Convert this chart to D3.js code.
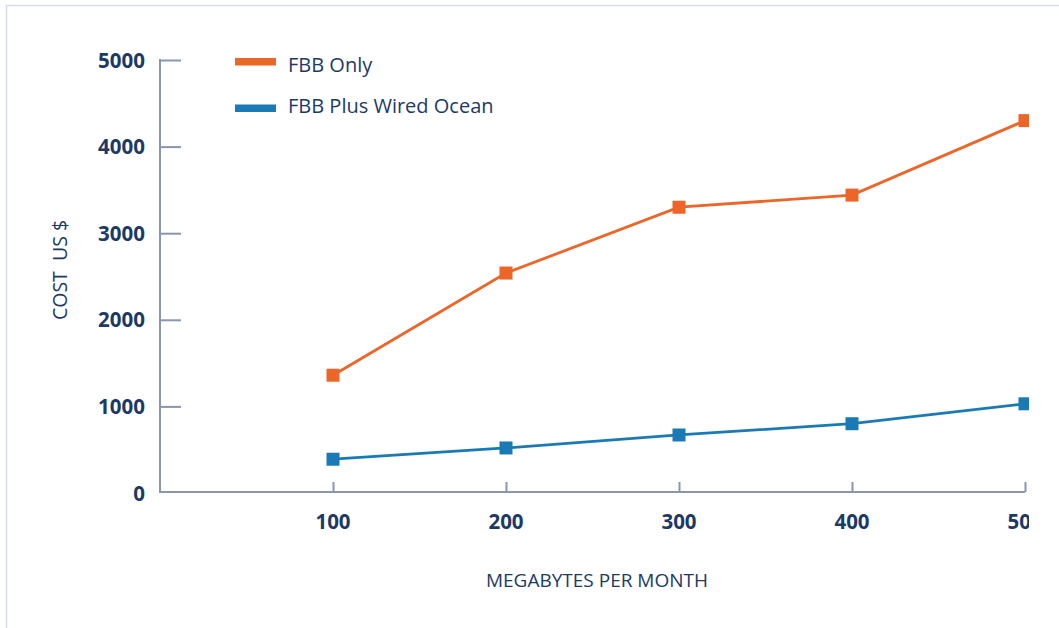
<!DOCTYPE html>
<html>
<head>
<meta charset="utf-8">
<script src="https://cdn.jsdelivr.net/npm/d3@7"></script>
<style>
  body { margin: 0; background: #fff; }
  text { font-family: "Open Sans", "Noto Sans", sans-serif; fill: #1d3a66; }
</style>
</head>
<body>
<div id="chart"></div>
<script>
  // data
  var megabytes = [100, 200, 300, 400, 500];
  var fbbOnly = [1360, 2540, 3300, 3440, 4300];
  var fbbWired = [390, 520, 670, 800, 1030];
  var seriesNames = ["FBB Only", "FBB Plus Wired Ocean"];
  var seriesColors = ["#ec6629", "#1a7ab5"];
  var yTicks = [0, 1000, 2000, 3000, 4000, 5000];

  var width = 1059;
  var height = 628;
  var axisColor = "#8a96ad";

  var svg = d3.select("#chart")
    .append("svg")
    .attr("width", width)
    .attr("height", height);

  //frame, left and top only
  svg.append("path")
    .attr("d", "M6.5," + height + " V5.5 H" + width)
    .attr("fill", "none")
    .attr("stroke", "#d6dce8")
    .attr("stroke-width", 1.5);

  // clip everything right of ~1029 like the original crop
  svg.append("clipPath")
    .attr("id", "crop")
    .append("rect")
    .attr("x", 0).attr("y", 0)
    .attr("width", 1029).attr("height", height);

  var g = svg.append("g").attr("clip-path", "url(#crop)");

  var x = d3.scaleLinear().domain([0, 500]).range([160, 1025]);
  var y = d3.scaleLinear().domain([0, 5000]).range([493, 60]);

  //y axis (no tick drawn at 0, the x axis sits there)
  var yAxis = g.append("g")
    .attr("transform", "translate(160,0)")
    .call(d3.axisRight(y).tickValues(yTicks.filter(d => d > 0)).tickSize(21).tickFormat(""));
  yAxis.select(".domain").remove();
  yAxis.selectAll("line").attr("stroke", axisColor).attr("stroke-width", 2);

  g.append("line")
    .attr("x1", 160).attr("x2", 160)
    .attr("y1", y(5000) - 1).attr("y2", y(0))
    .attr("stroke", axisColor).attr("stroke-width", 2);

  g.selectAll(".ylab")
    .data(yTicks)
    .enter()
    .append("text")
    .attr("class", "ylab")
    .attr("x", 145)
    .attr("y", d => y(d) + 7.5)
    .attr("text-anchor", "end")
    .style("font-size", "20.5px")
    .style("font-weight", "bold")
    .text(d => d);

  //x axis
  var xAxis = g.append("g")
    .attr("transform", "translate(0,492)")
    .call(d3.axisTop(x).tickValues(megabytes).tickSize(10).tickFormat(""));
  xAxis.select(".domain").remove();
  xAxis.selectAll("line").attr("stroke", axisColor).attr("stroke-width", 2);

  g.append("line")
    .attr("x1", 160).attr("x2", x(500))
    .attr("y1", 492).attr("y2", 492)
    .attr("stroke", axisColor).attr("stroke-width", 2);

  g.selectAll(".xlab")
    .data(megabytes)
    .enter()
    .append("text")
    .attr("class", "xlab")
    .attr("x", d => x(d))
    .attr("y", 529)
    .attr("text-anchor", "middle")
    .style("font-size", "20.5px")
    .style("font-weight", "bold")
    .text(d => d);

  //axis titles
  g.append("text")
    .attr("transform", "translate(67,270) rotate(-90)")
    .attr("text-anchor", "middle")
    .style("font-size", "19.5px")
    .attr("xml:space", "preserve")
    .text("COST  US $");

  g.append("text")
    .attr("x", 597)
    .attr("y", 587)
    .attr("text-anchor", "middle")
    .style("font-size", "19px")
    .text("MEGABYTES PER MONTH");

  //lines + square markers
  var line = d3.line()
    .x((d, i) => x(megabytes[i]))
    .y(d => y(d));

  [fbbOnly, fbbWired].forEach(function (vals, k) {
    g.append("path")
      .attr("d", line(vals))
      .attr("fill", "none")
      .attr("stroke", seriesColors[k])
      .attr("stroke-width", 2.8);

    g.selectAll(".pt" + k)
      .data(vals)
      .enter()
      .append("rect")
      .attr("class", "pt" + k)
      .attr("x", (d, i) => x(megabytes[i]) - 6.5)
      .attr("y", d => y(d) - 6.5)
      .attr("width", 13)
      .attr("height", 13)
      .attr("fill", seriesColors[k]);
  });

  //legend
  var barY = [62, 108.5];
  var labY = [72, 113];
  var legend = g.selectAll(".leg")
    .data(seriesNames)
    .enter()
    .append("g")
    .attr("class", "leg");

  legend.append("rect")
    .attr("x", 235).attr("y", (d, i) => barY[i] - 4)
    .attr("width", 41).attr("height", 7.5)
    .attr("fill", (d, i) => seriesColors[i]);

  legend.append("text")
    .attr("x", 288)
    .attr("y", (d, i) => labY[i])
    .style("font-size", "20px")
    .text(d => d);
</script>
</body>
</html>
